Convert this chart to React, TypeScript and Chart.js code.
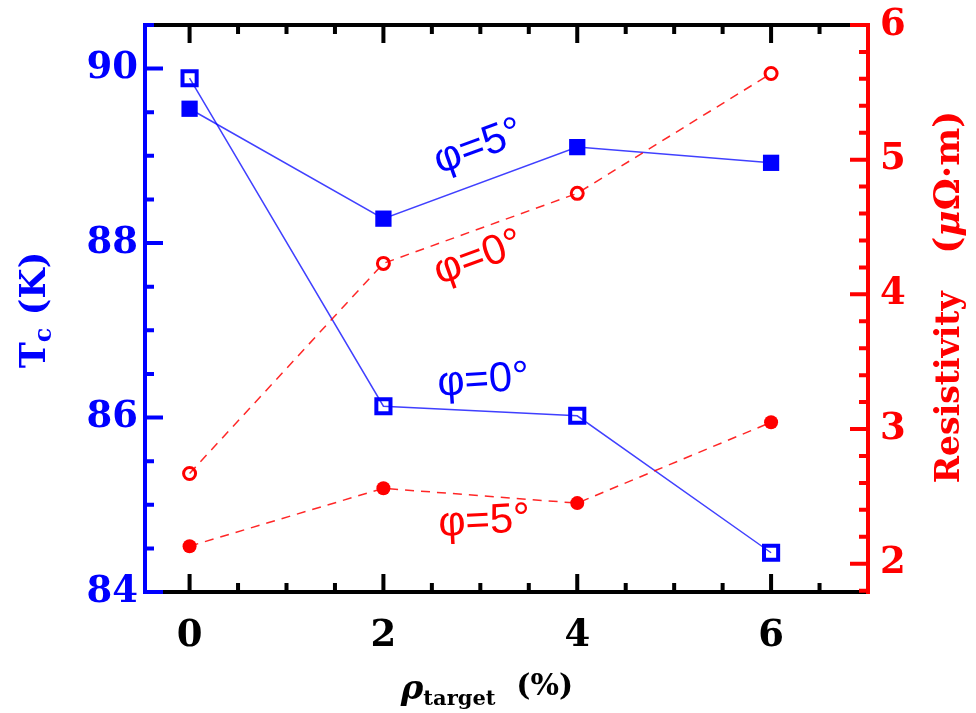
import React, { useEffect, useRef } from "react";
import { Chart, registerables } from "chart.js";

Chart.register(...registerables);

// ---- data ----
const X_VALUES = [0, 2, 4, 6];
const TC_PHI0 = [89.89, 86.13, 86.02, 84.45];
const TC_PHI5 = [89.54, 88.28, 89.1, 88.92];
const RHO_PHI0 = [2.67, 4.23, 4.75, 5.64];
const RHO_PHI5 = [2.13, 2.56, 2.45, 3.05];

// ---- ticks ----
const X_TICKS = [0, 2, 4, 6];
const TC_TICKS = [84, 86, 88, 90];
const RHO_TICKS = [2, 3, 4, 5, 6];
const X_MINOR_STEP = 0.5;
const TC_MINOR_STEP = 0.5;
const RHO_MINOR_STEP = 0.2;

const X_RANGE = [-0.46, 7.0];
const TC_RANGE = [84, 90.5];
const RHO_RANGE = [1.79, 6];

// ---- annotation labels (data coordinates) ----
const LABEL_TEXTS = ["φ=5°", "φ=0°", "φ=0°", "φ=5°"];
const LABEL_X = [2.98, 2.98, 3.03, 3.04];
const LABEL_Y = [89.1, 4.27, 86.42, 2.31];
const LABEL_AXIS = ["y", "y2", "y", "y2"];
const LABEL_ANGLE = [-20, -20, -4, -3];

const BLUE = "#0000ff";
const RED = "#ff0000";

const SERIF = '"DejaVu Serif"';

function drawRich(ctx: CanvasRenderingContext2D, parts: { text: string; font: string; dy: number }[], cx: number, cy: number, angle: number, color: string) {
  ctx.save();
  ctx.translate(cx, cy);
  ctx.rotate(angle);
  ctx.fillStyle = color;
  ctx.textBaseline = "middle";
  ctx.textAlign = "left";
  let total = 0;
  const widths = parts.map((p) => {
    ctx.font = p.font;
    const w = ctx.measureText(p.text).width;
    total += w;
    return w;
  });
  let x = -total / 2;
  parts.forEach((p, i) => {
    ctx.font = p.font;
    ctx.fillText(p.text, x, p.dy);
    x += widths[i];
  });
  ctx.restore();
}

function tickValues(min: number, max: number, step: number) {
  const out: number[] = [];
  const start = Math.ceil(min / step - 1e-9);
  for (let i = start; i * step <= max + 1e-9; i++) out.push(i * step);
  return out;
}

const MAJOR = 18;
const MINOR = 9;

const framePlugin = {
  id: "frame",
  afterDraw(chart: any) {
    const { ctx, chartArea, scales } = chart;
    const { left, right, top, bottom } = chartArea;
    const sx = scales.x, sy = scales.y, sy2 = scales.y2;
    ctx.save();
    ctx.lineCap = "butt";

    ctx.strokeStyle = "#000";
    ctx.lineWidth = 4;
    ctx.beginPath();
    ctx.moveTo(left, top);
    ctx.lineTo(right, top);
    ctx.moveTo(left, bottom);
    ctx.lineTo(right, bottom);
    ctx.stroke();

    const xMinor = tickValues(X_RANGE[0], X_RANGE[1], X_MINOR_STEP);
    ctx.beginPath();
    xMinor.forEach((v) => {
      const isMajor = X_TICKS.some((m) => Math.abs(m - v) < 1e-6);
      const len = isMajor ? MAJOR : MINOR;
      const px = sx.getPixelForValue(v);
      ctx.moveTo(px, bottom);
      ctx.lineTo(px, bottom - len);
      ctx.moveTo(px, top);
      ctx.lineTo(px, top + len);
    });
    ctx.stroke();

    ctx.strokeStyle = BLUE;
    ctx.beginPath();
    ctx.moveTo(left, top - 2);
    ctx.lineTo(left, bottom + 2);
    tickValues(TC_RANGE[0], TC_RANGE[1], TC_MINOR_STEP).forEach((v) => {
      const isMajor = TC_TICKS.some((m) => Math.abs(m - v) < 1e-6);
      const len = isMajor ? MAJOR : MINOR;
      const py = sy.getPixelForValue(v);
      ctx.moveTo(left - 2, py);
      ctx.lineTo(left + len, py);
    });
    ctx.stroke();

    ctx.strokeStyle = RED;
    ctx.beginPath();
    ctx.moveTo(right, top - 2);
    ctx.lineTo(right, bottom + 2);
    tickValues(RHO_RANGE[0], RHO_RANGE[1], RHO_MINOR_STEP).forEach((v) => {
      const isMajor = RHO_TICKS.some((m) => Math.abs(m - v) < 1e-6);
      const len = isMajor ? MAJOR : MINOR;
      const py = sy2.getPixelForValue(v);
      ctx.moveTo(right + 2, py);
      ctx.lineTo(right - len, py);
    });
    ctx.stroke();

    LABEL_TEXTS.forEach((t, i) => {
      const scale = LABEL_AXIS[i] === "y" ? sy : sy2;
      const px = sx.getPixelForValue(LABEL_X[i]);
      const py = scale.getPixelForValue(LABEL_Y[i]);
      drawRich(ctx, [{ text: t, font: '42px "Liberation Sans"', dy: 0 }], px, py, (LABEL_ANGLE[i] * Math.PI) / 180, LABEL_AXIS[i] === "y" ? BLUE : RED);
    });

    drawRich(
      ctx,
      [
        { text: "T", font: `bold 35px ${SERIF}`, dy: 0 },
        { text: "c", font: `bold 24px ${SERIF}`, dy: 9 },
        { text: " (K)", font: `bold 35px ${SERIF}`, dy: 0 },
      ],
      36,
      310,
      -Math.PI / 2,
      BLUE
    );
    drawRich(
      ctx,
      [
        { text: "Resistivity", font: `bold 33px ${SERIF}`, dy: 0 },
        { text: "   (", font: `bold 36px ${SERIF}`, dy: 0 },
        { text: "μ", font: `italic bold 36px ${SERIF}`, dy: 0 },
        { text: "Ω·m)", font: `bold 36px ${SERIF}`, dy: 0 },
      ],
      950,
      297,
      -Math.PI / 2,
      RED
    );
    drawRich(
      ctx,
      [
        { text: "ρ", font: `italic bold 34px ${SERIF}`, dy: 0 },
        { text: "target", font: `bold 21px ${SERIF}`, dy: 10 },
        { text: "  (%)", font: `bold 30px ${SERIF}`, dy: -3 },
      ],
      487,
      690,
      0,
      "#000"
    );
    ctx.restore();
  },
};

function pts(ys: number[]) {
  return X_VALUES.map((x, i) => ({ x, y: ys[i] }));
}

export default function App() {
  const ref = useRef<HTMLCanvasElement | null>(null);
  useEffect(() => {
    if (!ref.current) return;
    const tickFont = { family: SERIF, size: 37, weight: "bold" as const };
    const chart = new Chart(ref.current, {
      type: "line",
      data: {
        datasets: [
          {
            data: pts(RHO_PHI0),
            yAxisID: "y2",
            borderColor: "rgba(255,0,0,0.85)",
            borderWidth: 1.5,
            borderDash: [9, 7],
            pointStyle: "circle",
            pointRadius: 6,
            pointBorderWidth: 3,
            pointBorderColor: RED,
            pointBackgroundColor: "rgba(255,255,255,0)",
          },
          {
            data: pts(RHO_PHI5),
            yAxisID: "y2",
            borderColor: "rgba(255,0,0,0.85)",
            borderWidth: 1.5,
            borderDash: [9, 7],
            pointStyle: "circle",
            pointRadius: 7,
            pointBorderWidth: 0,
            pointBackgroundColor: RED,
          },
          {
            data: pts(TC_PHI0),
            yAxisID: "y",
            borderColor: "rgba(0,0,255,0.75)",
            borderWidth: 1.5,
            pointStyle: "rect",
            pointRadius: 10,
            pointBorderWidth: 4,
            pointBorderColor: BLUE,
            pointBackgroundColor: "rgba(255,255,255,0)",
          },
          {
            data: pts(TC_PHI5),
            yAxisID: "y",
            borderColor: "rgba(0,0,255,0.75)",
            borderWidth: 1.5,
            pointStyle: "rect",
            pointRadius: 11.5,
            pointBorderWidth: 0,
            pointBackgroundColor: BLUE,
          },
        ],
      },
      options: {
        animation: false,
        responsive: false,
        devicePixelRatio: 1,
        layout: { padding: { top: 25, left: 0, right: 0, bottom: 0 } },
        elements: { line: { tension: 0 } },
        plugins: { legend: { display: false }, tooltip: { enabled: false } },
        scales: {
          x: {
            type: "linear",
            position: "bottom",
            min: X_RANGE[0],
            max: X_RANGE[1],
            grid: { display: false, drawTicks: false },
            border: { display: false },
            ticks: { font: tickFont, color: "#000", padding: 22, maxRotation: 0, autoSkip: false },
            afterBuildTicks: (s: any) => {
              s.ticks = X_TICKS.map((v) => ({ value: v }));
            },
            afterFit: (s: any) => {
              s.height = 121;
              s.paddingLeft = 0;
              s.paddingRight = 0;
            },
          },
          y: {
            type: "linear",
            position: "left",
            min: TC_RANGE[0],
            max: TC_RANGE[1],
            grid: { display: false, drawTicks: false },
            border: { display: false },
            ticks: { font: tickFont, color: BLUE, padding: 7, autoSkip: false },
            afterBuildTicks: (s: any) => {
              s.ticks = TC_TICKS.map((v) => ({ value: v }));
            },
            afterFit: (s: any) => {
              s.width = 145;
              s.paddingTop = 0;
              s.paddingBottom = 0;
            },
          },
          y2: {
            type: "linear",
            position: "right",
            min: RHO_RANGE[0],
            max: RHO_RANGE[1],
            grid: { display: false, drawTicks: false },
            border: { display: false },
            ticks: { font: tickFont, color: RED, padding: 12, autoSkip: false },
            afterBuildTicks: (s: any) => {
              s.ticks = RHO_TICKS.map((v) => ({ value: v }));
            },
            afterFit: (s: any) => {
              s.width = 108;
              s.paddingTop = 0;
              s.paddingBottom = 0;
            },
          },
        },
      },
      plugins: [framePlugin],
    });
    return () => chart.destroy();
  }, []);
  return (
    <div style={{ position: "fixed", left: 0, top: 0, width: 976, height: 713, background: "#fff" }}>
      <canvas ref={ref} width={976} height={713} style={{ width: 976, height: 713 }} />
    </div>
  );
}
